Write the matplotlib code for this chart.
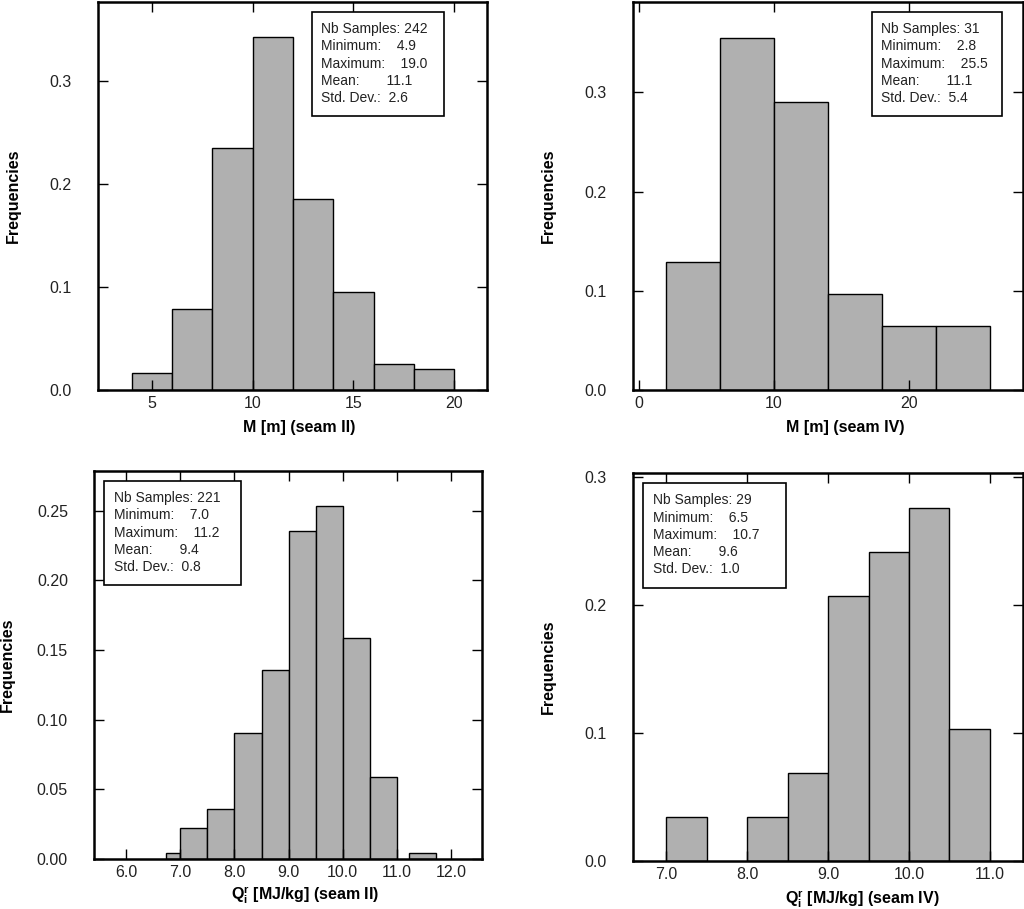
import numpy as np
import matplotlib
matplotlib.use("Agg")
import matplotlib.pyplot as plt
from matplotlib.patches import Rectangle

plt.rcParams['font.family'] = ['Liberation Sans', 'DejaVu Sans']
plt.rcParams['mathtext.default'] = 'regular'

# --- data (left bin edge, bin width, frequency) ---
m2_left = [4, 6, 8, 10, 12, 14, 16, 18]
m2_width = [2, 2, 2, 2, 2, 2, 2, 2]
m2_freq = [0.0165, 0.0785, 0.2355, 0.343, 0.186, 0.095, 0.0248, 0.0207]
m2_stats = ["Nb Samples: 242", "Minimum:    4.9", "Maximum:    19.0",
            "Mean:       11.1", "Std. Dev.:  2.6"]

m4_left = [2, 6, 10, 14, 18, 22]
m4_width = [4, 4, 4, 4, 4, 4]
m4_freq = [0.129, 0.355, 0.290, 0.097, 0.0645, 0.0645]
m4_stats = ["Nb Samples: 31", "Minimum:    2.8", "Maximum:    25.5",
            "Mean:       11.1", "Std. Dev.:  5.4"]

q2_left = [6.73, 7.0, 7.5, 8.0, 8.5, 9.0, 9.5, 10.0, 10.5, 11.23]
q2_width = [0.27, 0.5, 0.5, 0.5, 0.5, 0.5, 0.5, 0.5, 0.5, 0.5]
q2_freq = [0.0045, 0.0226, 0.0362, 0.0905, 0.1357, 0.2353, 0.2534, 0.1584, 0.0588, 0.0045]
q2_stats = ["Nb Samples: 221", "Minimum:    7.0", "Maximum:    11.2",
            "Mean:       9.4", "Std. Dev.:  0.8"]

q4_left = [7.0, 8.0, 8.5, 9.0, 9.5, 10.0, 10.5]
q4_width = [0.5, 0.5, 0.5, 0.5, 0.5, 0.5, 0.5]
q4_freq = [0.0345, 0.0345, 0.069, 0.2069, 0.2414, 0.2759, 0.1034]
q4_stats = ["Nb Samples: 29", "Minimum:    6.5", "Maximum:    10.7",
            "Mean:       9.6", "Std. Dev.:  1.0"]

BAR = '#b0b0b0'

fig = plt.figure(figsize=(10.24, 9.09), dpi=100)

def panel(rect, left, width, freq, stats, xlabel, xlim, ylim, xticks, yticks,
          xfmt, yfmt, box, xlab_pos, ylab_x):
    ax = fig.add_axes(rect)
    ax.bar(left, freq, width=width, align='edge', color=BAR,
           edgecolor='black', linewidth=1.0)
    ax.set_xlim(*xlim)
    ax.set_ylim(*ylim)
    ax.set_xticks(xticks)
    ax.set_yticks(yticks)
    ax.set_xticklabels([xfmt % t for t in xticks])
    ax.set_yticklabels([yfmt % t for t in yticks])
    for s in ax.spines.values():
        s.set_linewidth(1.8)
    ax.tick_params(direction='in', length=7, width=1, top=True, right=True,
                   labelsize=11.5, labelcolor='#222222')
    ax.tick_params(axis='y', pad=19)
    ax.tick_params(axis='x', pad=4)
    ax.set_ylabel('Frequencies', fontsize=11.5, fontweight='bold')
    ax.yaxis.set_label_coords(ylab_x, 0.5)
    ax.set_xlabel(xlabel, fontsize=11.5, fontweight='bold')
    ax.xaxis.set_label_coords(xlab_pos[0], xlab_pos[1])
    # stats box
    x0, x1, tx = box
    ax.add_patch(Rectangle((x0, 0.705), x1 - x0, 0.975 - 0.705,
                           transform=ax.transAxes, fc='white', ec='black',
                           lw=1.2, zorder=5))
    for i, line in enumerate(stats):
        ax.text(tx, 0.930 - i * 0.0445, line, transform=ax.transAxes,
                fontsize=10, va='center', ha='left', color='#222222', zorder=6)
    return ax

panel([0.0957, 0.571, 0.380, 0.4268], m2_left, m2_width, m2_freq, m2_stats,
      'M [m] (seam II)', (2.32, 21.64), (0, 0.377), [5, 10, 15, 20],
      [0.0, 0.1, 0.2, 0.3], '%d', '%.1f', (0.549, 0.890, 0.573),
      (0.517, -0.077), -0.197)

panel([0.6185, 0.571, 0.3804, 0.4268], m4_left, m4_width, m4_freq, m4_stats,
      'M [m] (seam IV)', (-0.4, 28.4), (0, 0.391), [0, 10, 20],
      [0.0, 0.1, 0.2, 0.3], '%d', '%.1f', (0.612, 0.947, 0.637),
      (0.543, -0.077), -0.200)

panel([0.0921, 0.055, 0.3789, 0.4268], q2_left, q2_width, q2_freq, q2_stats,
      r'Q$_{i}^{r}$ [MJ/kg] (seam II)', (5.41, 12.58), (0, 0.2785),
      [6, 7, 8, 9, 10, 11, 12], [0.0, 0.05, 0.10, 0.15, 0.20, 0.25],
      '%.1f', '%.2f', (0.025, 0.379, 0.0515), (0.543, -0.066), -0.205)

panel([0.6185, 0.0528, 0.3804, 0.4265], q4_left, q4_width, q4_freq, q4_stats,
      r'Q$_{i}^{r}$ [MJ/kg] (seam IV)', (6.59, 11.41), (0, 0.303),
      [7, 8, 9, 10, 11], [0.0, 0.1, 0.2, 0.3],
      '%.1f', '%.1f', (0.0257, 0.392, 0.0513), (0.588, -0.071), -0.200)

fig.savefig('out.png', dpi=100)
